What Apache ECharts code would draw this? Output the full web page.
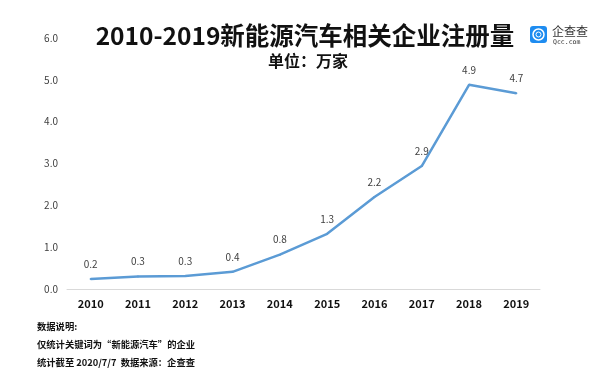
<!DOCTYPE html>
<html><head><meta charset="utf-8">
<script src="https://cdn.jsdelivr.net/npm/echarts@6/dist/echarts.min.js"></script>
<style>html,body{margin:0;padding:0;background:#fff}#c{width:600px;height:382px}</style>
</head><body><div id="c"></div>
<script>
var years = ['2010','2011','2012','2013','2014','2015','2016','2017','2018','2019'];
var counts = [0.24, 0.30, 0.31, 0.41, 0.82, 1.32, 2.2, 2.94, 4.88, 4.68];
var yTicks = [0, 1, 2, 3, 4, 5, 6];
var titleText = '2010-2019新能源汽车相关企业注册量';
var subText = '单位：万家';
var notes = ['数据说明:', '仅统计关键词为\u201c新能源汽车\u201d的企业', '统计截至 2020/7/7  数据来源：企查查'];
var font = '"Noto Sans CJK SC", "Noto Sans", sans-serif';

var chart = echarts.init(document.getElementById('c'));
chart.setOption({
  backgroundColor: '#fff',
  animation: false,
  title: [
    {text: titleText, left: 300, top: 18, textAlign: 'center',
     textStyle: {fontFamily: font, fontSize: 24.5, fontWeight: 'bold', color: '#111'}},
    {text: subText, left: 303, top: 48, textAlign: 'center',
     textStyle: {fontFamily: font, fontSize: 16, fontWeight: 'bold', color: '#111'}}
  ],
  grid: {left: 67, right: 60, top: 38, bottom: 93},
  xAxis: {
    type: 'category', data: years, boundaryGap: true,
    axisLine: {lineStyle: {color: '#d9d9d9', width: 1}},
    axisTick: {show: false},
    axisLabel: {fontFamily: font, fontSize: 11, fontWeight: 'bold', color: '#111', margin: 9}
  },
  yAxis: {
    type: 'value', min: yTicks[0], max: yTicks[yTicks.length-1], interval: 1,
    axisLine: {show: false}, axisTick: {show: false}, splitLine: {show: false},
    axisLabel: {fontFamily: font, fontSize: 10, color: '#404040', margin: 9,
      formatter: function(v){ return v.toFixed(1); }}
  },
  series: [{
    type: 'line', data: counts, showSymbol: true, symbol: 'circle', symbolSize: 2,
    itemStyle: {color: '#5B9BD5'},
    lineStyle: {color: '#5B9BD5', width: 2.5},
    label: {show: true, position: 'top', distance: 9, fontFamily: font, fontSize: 10, color: '#404040',
      formatter: function(p){ return Number(p.value).toFixed(1); }}
  }],
  graphic: [
    {type: 'rect', shape: {x: 530, y: 26, width: 17, height: 17, r: 3}, style: {fill: '#1E8CF0'}},
    {type: 'circle', shape: {cx: 538.5, cy: 34.5, r: 5.5}, style: {fill: 'none', stroke: '#fff', lineWidth: 1.5}},
    {type: 'circle', shape: {cx: 538.5, cy: 34.5, r: 2.5}, style: {fill: 'none', stroke: '#fff', lineWidth: 1}},
    {type: 'text', style: {text: '企查查', x: 552, y: 25, fontFamily: font, fontSize: 12, fill: '#333'}},
    {type: 'text', style: {text: 'Qcc.com', x: 553, y: 39, fontFamily: 'DejaVu Sans Mono, monospace', fontSize: 6.5, fill: '#333'}},
    {type: 'text', style: {text: notes[0], x: 37, y: 322, fontFamily: font, fontSize: 9.3, fontWeight: 'bold', fill: '#111'}},
    {type: 'text', style: {text: notes[1], x: 37, y: 340, fontFamily: font, fontSize: 9.3, fontWeight: 'bold', fill: '#111'}},
    {type: 'text', style: {text: notes[2], x: 37, y: 358, fontFamily: font, fontSize: 9.3, fontWeight: 'bold', fill: '#111'}}
  ]
});
</script></body></html>
